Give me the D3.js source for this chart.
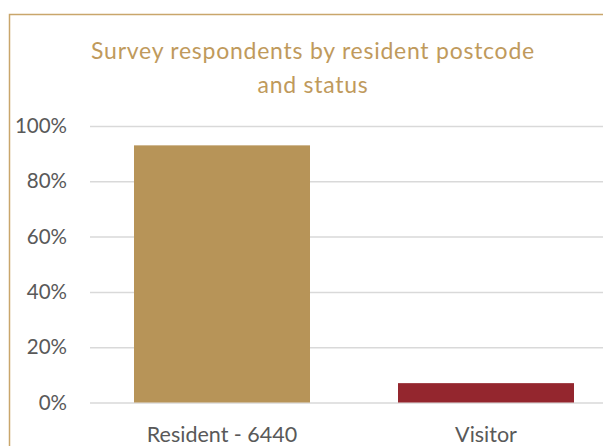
<!DOCTYPE html>
<html>
<head>
<meta charset="utf-8">
<script src="https://cdn.jsdelivr.net/npm/d3@7"></script>
<style>
  html, body { margin: 0; padding: 0; background: #fff; }
  svg { display: block; }
  text { font-family: Lato, "Open Sans", sans-serif; }
</style>
</head>
<body>
<div id="chart"></div>
<script>
// Share of survey respondents by status
const categories = ["Resident - 6440", "Visitor"];
const shares = [0.93, 0.07];
const barColors = ["#b79458", "#94262e"];
const yTicks = [0, 0.2, 0.4, 0.6, 0.8, 1.0];
const titleLines = ["Survey respondents by resident postcode", "and status"];

const W = 603, H = 446;
const svg = d3.select("#chart").append("svg").attr("width", W).attr("height", H);

// chart frame
svg.append("rect")
  .attr("x", 9.5).attr("y", 14.5)
  .attr("width", 700).attr("height", 600)
  .attr("fill", "none").attr("stroke", "#c9a66b").attr("stroke-width", 1.5);

const plot = { left: 90, right: 618, top: 126, bottom: 402.5 };

const x = d3.scaleBand().domain(categories).range([plot.left, plot.right]).paddingInner(1 / 3).paddingOuter(1 / 6);
const y = d3.scaleLinear().domain([0, 1]).range([plot.bottom, plot.top]);

// title
svg.append("text")
  .attr("x", 313).attr("y", 58.5)
  .attr("text-anchor", "middle")
  .attr("fill", "#bf9a5c")
  .attr("font-size", 23)
  .attr("letter-spacing", 0.75)
  .selectAll("tspan").data(titleLines).join("tspan")
  .attr("x", 313).attr("dy", (d, i) => i === 0 ? 0 : 34)
  .text(d => d);

// gridlines + y labels
const yAxis = d3.axisLeft(y).tickValues(yTicks).tickFormat(d3.format(".0%"))
  .tickSize(-(plot.right - plot.left)).tickPadding(23);
const gy = svg.append("g").attr("transform", `translate(${plot.left},0)`).call(yAxis);
gy.select(".domain").remove();
gy.selectAll(".tick line").attr("stroke", "#d9d9d9").attr("stroke-width", 1.5);
gy.selectAll(".tick text").attr("fill", "#595959").attr("font-size", 20.5)
  .attr("font-family", "Lato, 'Open Sans', sans-serif");

// bars
svg.append("g").selectAll("rect").data(categories).join("rect")
  .attr("x", d => x(d))
  .attr("width", x.bandwidth())
  .attr("y", (d, i) => y(shares[i]))
  .attr("height", (d, i) => y(0) - y(shares[i]))
  .attr("fill", (d, i) => barColors[i]);

// category labels
const xAxis = d3.axisBottom(x).tickSize(0);
const gx = svg.append("g").attr("transform", `translate(0,${plot.bottom})`).call(xAxis);
gx.select(".domain").remove();
gx.selectAll(".tick text").attr("fill", "#595959").attr("font-size", 21.5)
  .attr("font-family", "Lato, 'Open Sans', sans-serif")
  .attr("y", 39.3).attr("dy", 0);
</script>
</body>
</html>
